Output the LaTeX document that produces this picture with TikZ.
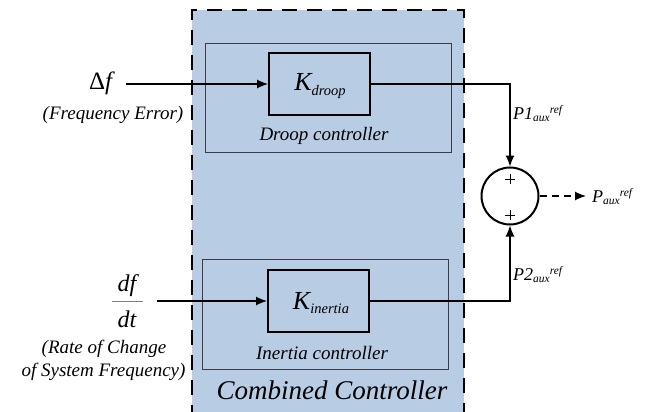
\documentclass[tikz,border=0pt]{standalone}
\usepackage{fontspec}
\setmainfont{Liberation Serif}
\usetikzlibrary{arrows.meta}
\definecolor{ctrlblue}{RGB}{184,204,228}
\definecolor{grpgray}{RGB}{60,60,70}
\newcommand{\fs}[1]{\fontsize{#1}{#1}\selectfont}
\newcommand{\gainlbl}[2]{{\fs{26}\itshape #1}\raisebox{-0.45em}{\fs{14.5}\itshape #2}}
\newcommand{\refsig}[1]{{\fs{18}\itshape #1}\raisebox{-0.25em}{\fs{11.5}\itshape aux}\raisebox{0.55em}{\fs{11.5}\itshape ref}}
\begin{document}
\begin{tikzpicture}[x=1pt,y=-1pt,
  grp/.style={draw=grpgray,line width=0.9pt},
  gainbox/.style={draw=black,line width=2pt},
  conn/.style={line width=1.2pt,-{Latex[length=11pt,width=9pt]}},
  wire/.style={line width=1.2pt},
  lbl/.style={inner sep=0pt,font=\fs{19}\itshape}]
\useasboundingbox (0,0) rectangle (646,412);
% combined controller background
\fill[ctrlblue] (192,10) rectangle (464,420);
\draw[line width=2.6pt,dash pattern=on 15pt off 10pt] (192,420) -- (192,10) -- (464,10) -- (464,420);
% groups
\draw[grp] (205,43) rectangle (451,152);
\draw[grp] (202,259) rectangle (448,369);
% gain boxes
\node[gainbox,minimum width=101pt,minimum height=62pt,inner sep=0pt] (kd) at (319.5,84) {};
\node[gainbox,minimum width=101pt,minimum height=62pt,inner sep=0pt] (ki) at (318.5,301) {};
\node[inner sep=0pt] (kdt) at (320,86) {\gainlbl{K}{droop}};
\node[inner sep=0pt] (kit) at (321,303) {\gainlbl{K}{inertia}};
\node[lbl] (dc) at (324,136) {Droop controller};
\node[lbl] (ic) at (322,353) {Inertia controller};
\node[inner sep=0pt,font=\fs{27}\itshape] (cc) at (332,390) {Combined Controller};
% inputs
\node[inner sep=0pt,font=\fs{25}] (df) at (102,83) {Δ\textit{f}};
\node[lbl] (fe) at (113,115) {(Frequency Error)};
\node[inner sep=0pt,font=\fs{24}\itshape] (dfn) at (127,286) {df};
\node[inner sep=0pt,font=\fs{24}\itshape] (dfd) at (127,319) {dt};
\draw[gray,line width=1pt] (112,301) -- (143,301);
\coordinate (frac) at (157,301);
\node[lbl] (r1) at (104,349) {(Rate of Change};
\node[lbl] (r2) at (103.5,372) {of System Frequency)};
\coordinate (dfe) at (126,84);
\draw[conn] (dfe) -- (kd.west);
\draw[conn] (frac) -- (ki.west);
% summation
\node[draw,circle,line width=2pt,minimum size=57pt,inner sep=0pt] (sum) at (510,196) {};
\draw[line width=0.6pt] (505,179) -- (515,179) (510,174) -- (510,184);
\draw[line width=0.6pt] (505,215) -- (515,215) (510,210) -- (510,220);
\draw[conn] (kd.east) -| (sum.north);
\draw[conn] (ki.east) -| (sum.south);
\node[inner sep=0pt,anchor=west] (p1) at (513,114) {\refsig{P1}};
\node[inner sep=0pt,anchor=west] (p2) at (513,275) {\refsig{P2}};
\coordinate (outend) at (586,196);
\draw[line width=1.2pt,dash pattern=on 7pt off 5pt,-{Latex[length=11pt,width=9pt]}] (sum.east) -- (outend);
\node[inner sep=0pt,anchor=west] (pout) at (592,197) {\refsig{P}};
\end{tikzpicture}
\end{document}
